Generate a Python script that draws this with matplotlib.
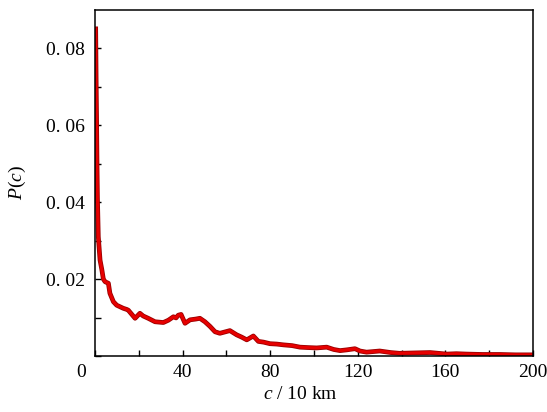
import matplotlib.pyplot as plt
from matplotlib.ticker import MultipleLocator, FixedLocator, FixedFormatter

plt.rcParams['font.family'] = ['Liberation Serif', 'DejaVu Serif']
plt.rcParams['mathtext.fontset'] = 'custom'
plt.rcParams['mathtext.it'] = 'Liberation Serif:italic'
plt.rcParams['mathtext.rm'] = 'Liberation Serif'

# distance c (in units of 10 km) and probability P(c)
c_vals = [0.3, 0.5, 0.7, 0.9, 1.1, 1.5, 2.3, 3.1, 3.8, 4.6, 6.1, 6.8, 8.4, 9.9,
          11.4, 12.9, 14.5, 15.2, 18.3, 20.5, 22.0, 24.3, 27.4, 31.2, 33.5, 35.8,
          37.0, 38.0, 39.3, 41.1, 43.4, 46.0, 47.9, 50.2, 52.5, 54.8, 57.0,
          61.6, 64.7, 67.0, 69.3, 72.3, 74.6, 77.0, 79.9, 83.0, 86.0, 90.0,
          93.6, 97.0, 101.2, 105.8, 109.0, 111.9, 115.0, 118.7, 121.0, 124.0,
          130.0, 135.0, 139.0, 146.0, 153.0, 160.6, 165.0, 169.7, 177.0, 185.0,
          192.0, 200.0]
p_vals = [0.085, 0.072, 0.062, 0.050, 0.041, 0.031, 0.0249, 0.0225, 0.0200,
          0.0193, 0.0189, 0.0163, 0.0141, 0.0132, 0.0128, 0.0124, 0.0121, 0.0119,
          0.0098, 0.0111, 0.0104, 0.0098, 0.0089, 0.0087, 0.0093, 0.0102, 0.0099,
          0.0106, 0.0108, 0.0085, 0.0094, 0.0096, 0.0098, 0.0089, 0.0077, 0.0063,
          0.0059, 0.0066, 0.0055, 0.0049, 0.0042, 0.0052, 0.0038, 0.0036, 0.0032,
          0.0031, 0.0029, 0.0027, 0.0023, 0.0022, 0.0021, 0.0023, 0.0017, 0.0014,
          0.0016, 0.0019, 0.0013, 0.0010, 0.0013, 0.0009, 0.0007, 0.0008, 0.0009,
          0.0005, 0.0006, 0.0005, 0.0004, 0.0004, 0.0003, 0.0003]

x_ticks = [40, 80, 120, 160, 200]
y_ticks = [0.02, 0.04, 0.06, 0.08]
y_labels = ['0. 02', '0. 04', '0. 06', '0. 08']

fig = plt.figure(figsize=(5.47, 4.12), dpi=100)
ax = fig.add_axes([0.1737, 0.1359, 0.8007, 0.8398])

ax.plot(c_vals, p_vals, color='#9a0000', lw=3.4, solid_joinstyle='round')
ax.plot(c_vals, p_vals, color='#e60000', lw=2.2, solid_joinstyle='round')

ax.set_xlim(0, 200)
ax.set_ylim(0, 0.0899)

ax.xaxis.set_major_locator(FixedLocator(x_ticks))
ax.xaxis.set_minor_locator(MultipleLocator(20))
ax.yaxis.set_major_locator(FixedLocator(y_ticks))
ax.yaxis.set_major_formatter(FixedFormatter(y_labels))
ax.yaxis.set_minor_locator(MultipleLocator(0.01))
ax.tick_params(which='both', direction='in', length=4, width=1, labelsize=14)
ax.tick_params(axis='x', pad=6)
ax.tick_params(axis='y', pad=7)
for s in ax.spines.values():
    s.set_linewidth(1.1)

ax.annotate('0', xy=(0, 0), xycoords='data', xytext=(-10, -6),
            textcoords='offset points', ha='center', va='top', fontsize=14)

ax.set_xlabel('$c$ / 10 km', fontsize=14)
ax.xaxis.set_label_coords((300 - 95) / 438, -0.088)
ax.set_ylabel('$P$($c$)', fontsize=14)
ax.yaxis.set_label_coords(-0.152, 0.5)

fig.savefig('out.png', dpi=100)
